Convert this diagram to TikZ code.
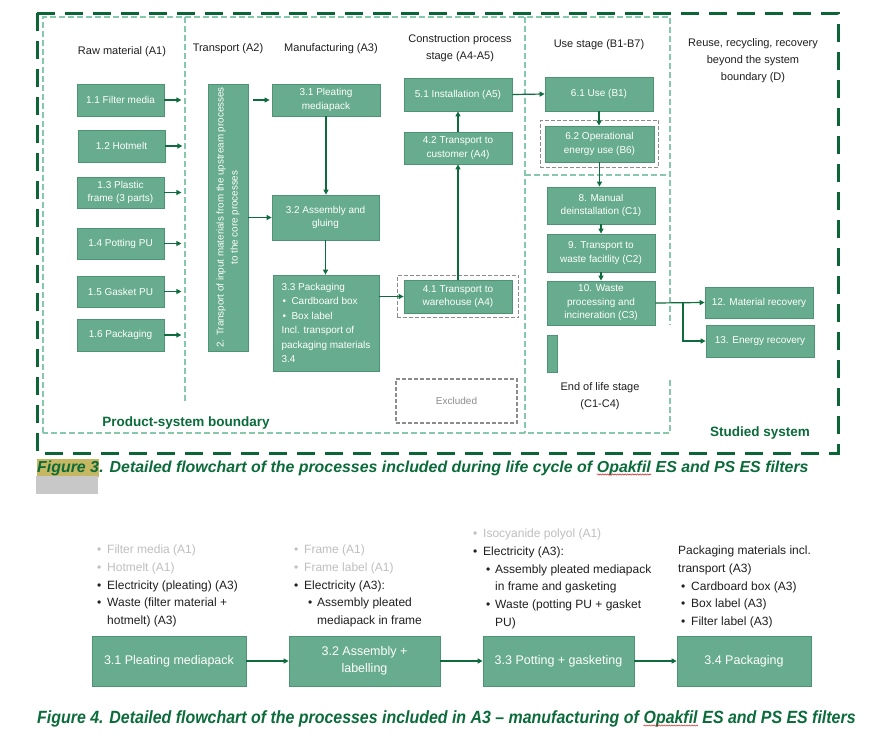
\documentclass[tikz,border=0pt]{standalone}
\usepackage{fontspec}
\setmainfont{Liberation Sans}
\newfontfamily\narrowsans[FakeStretch=0.9]{Liberation Sans}
\usepackage{graphicx}
\usetikzlibrary{arrows.meta,fit,decorations.pathmorphing}

\definecolor{boxfill}{HTML}{67AC8E}
\definecolor{boxline}{HTML}{4E9474}
\definecolor{arrowgreen}{HTML}{0E6B3D}
\definecolor{darkbound}{HTML}{0B6536}
\definecolor{lightbound}{HTML}{86C8AC}
\definecolor{exclgrey}{HTML}{8C8C8C}
\definecolor{fadetext}{HTML}{BFBFBF}
\definecolor{headtext}{HTML}{1F1F1F}
\definecolor{captiongreen}{HTML}{0B6B3A}
\definecolor{tagolive}{HTML}{C6B762}
\definecolor{tagshade}{HTML}{C8C8C8}
\definecolor{spellred}{HTML}{D02020}

\newcommand{\procfont}{\fontsize{10}{13.5}\selectfont}
\newcommand{\headfont}{\fontsize{11}{17}\selectfont}
\newcommand{\stepfont}{\fontsize{12.5}{17.5}\selectfont}
\newcommand{\listfont}{\fontsize{12}{17.8}\selectfont}
\newcommand{\capfont}{\fontsize{15.9}{18}\selectfont\bfseries\itshape}
\newcommand{\narrowcapfont}{\narrowsans\fontsize{17.7}{20}\selectfont\bfseries\itshape}
\newcommand{\bul}{\makebox[10pt][l]{\textbullet}}
\newcommand{\subbul}{\makebox[9pt][l]{\textbullet}}

\tikzset{
  procbox/.style={draw=boxline, fill=boxfill, text=white, font=\procfont,
    align=center, inner sep=1pt, line width=0.8pt},
  stepbox/.style={procbox, font=\stepfont, minimum height=50pt},
  flowarrow/.style={draw=arrowgreen, line width=1.2pt, -{Triangle[length=5pt,width=5pt]}},
  psline/.style={draw=lightbound, line width=2pt, dash pattern=on 6pt off 3pt},
  studiedline/.style={draw=darkbound, line width=3pt, dash pattern=on 18pt off 10pt},
  exclbox/.style={draw=exclgrey, line width=1.1pt, dash pattern=on 4pt off 2pt},
  stagehead/.style={font=\headfont, align=center, text=headtext},
  boundlabel/.style={font=\fontsize{13.5}{16}\selectfont\bfseries, text=captiongreen},
  figcap/.style={text=captiongreen, inner sep=0pt, anchor=base west},
  steplist/.style={font=\listfont, align=left, anchor=north west, inner sep=0pt, text=headtext},
  spellmark/.style={draw=spellred, line width=0.5pt, decorate,
    decoration={snake, amplitude=0.6pt, segment length=2.5pt}}
}

\begin{document}
\begin{tikzpicture}[x=1pt, y=-1pt]
  \fill[white] (0,0) rectangle (883,745);
  \useasboundingbox (0,0) rectangle (883,745);

  % system boundaries
  \draw[studiedline] (37,13) rectangle (838,453);
  \draw[psline] (43,433) -- (43,17) -- (670,17) -- (670,325);
  \draw[psline] (670,380) -- (670,433) -- (43,433);
  \draw[psline] (185,17) -- (185,403);
  \draw[psline] (525,17) -- (525,433);
  \draw[psline] (525,175) -- (670,175);

  % stage headings
  \node(hA1)[stagehead] at (122,52) {Raw material  (A1)};
  \node(hA2)[stagehead] at (228,49) {Transport (A2)};
  \node(hA3)[stagehead] at (331,49) {Manufacturing (A3)};
  \node(hA45)[stagehead] at (460,48.5) {Construction process\\stage (A4-A5)};
  \node(hB)[stagehead] at (599,45) {Use stage (B1-B7)};
  \node(hD)[stagehead] at (753,61) {Reuse, recycling, recovery\\beyond the system\\boundary (D)};
  \node(hC)[stagehead] at (600,396.5) {End of life stage\\(C1-C4)};
  \node(lblPS)[boundlabel] at (186,423) {Product-system boundary};
  \node(lblSS)[boundlabel] at (760,433) {Studied system};

  % raw materials
  \node(b11)[procbox, minimum width=87pt, minimum height=32pt] at (120.5,100) {1.1 Filter media};
  \node(b12)[procbox, minimum width=87pt, minimum height=32pt] at (121.5,146) {1.2 Hotmelt};
  \node(b13)[procbox, minimum width=87pt, minimum height=31pt] at (120.5,192.5) {1.3 Plastic\\frame (3 parts)};
  \node(b14)[procbox, minimum width=87pt, minimum height=31pt] at (120.5,243.5) {1.4 Potting PU};
  \node(b15)[procbox, minimum width=87pt, minimum height=31pt] at (120.5,291.5) {1.5 Gasket PU};
  \node(b16)[procbox, minimum width=87pt, minimum height=32pt] at (120.5,335) {1.6 Packaging};
  \foreach \b in {b11,b12,b13,b14,b15,b16}
    \draw[flowarrow] (\b.east) -- ++(17,0);

  % transport
  \node(b2)[procbox, minimum width=40pt, minimum height=267pt] at (228,217.5) {};
  \node(b2txt)[rotate=90, text=white, align=center, font=\fontsize{9.8}{14}\selectfont]
    at (b2.center) {2. Transport of input materials from the upstream processes\\to the core processes};

  % manufacturing
  \node(b31)[procbox, minimum width=108pt, minimum height=32pt] at (326,100) {3.1 Pleating\\mediapack};
  \node(b32)[procbox, minimum width=107pt, minimum height=45pt] at (325.5,217.5) {3.2 Assembly and\\gluing};
  \node(b33)[procbox, align=left, minimum width=106pt, minimum height=96pt,
    font=\fontsize{10}{14.5}\selectfont] at (326,323)
    {3.3 Packaging\\
     \hspace*{1pt}\subbul Cardboard box\\
     \hspace*{1pt}\subbul Box label\\
     Incl. transport of\\
     packaging materials\\
     3.4};

  % construction
  \node(b41)[procbox, minimum width=108pt, minimum height=33pt] at (458,296.5) {4.1 Transport to\\warehouse (A4)};
  \node(b42)[procbox, minimum width=108pt, minimum height=32pt] at (458,148) {4.2 Transport to\\customer (A4)};
  \node(b51)[procbox, minimum width=108pt, minimum height=33pt] at (458,94.5) {5.1 Installation (A5)};
  \node(x41)[exclbox, fit=(b41), inner xsep=6.5pt, inner ysep=4.5pt] {};
  \node(excl)[exclbox, minimum width=121pt, minimum height=44pt, text=exclgrey,
    font=\procfont] at (456.5,401) {Excluded};

  % use stage
  \node(b61)[procbox, minimum width=108pt, minimum height=34pt] at (599,94) {6.1 Use (B1)};
  \node(b62)[procbox, minimum width=109pt, minimum height=36pt] at (599.5,144) {6.2 Operational\\energy use (B6)};
  \node(x62)[exclbox, fit=(b62), inner xsep=4.5pt, inner ysep=5pt] {};

  % end of life
  \node(b8)[procbox, minimum width=108pt, minimum height=37pt] at (601,205.5) {8. Manual\\deinstallation (C1)};
  \node(b9)[procbox, minimum width=108pt, minimum height=38pt] at (601,253) {9. Transport to\\waste facitlity (C2)};
  \node(b10)[procbox, minimum width=108pt, minimum height=44pt] at (601,303) {10. Waste\\processing and\\incineration (C3)};
  \node(stub)[procbox, minimum width=10pt, minimum height=37pt] at (552,353.5) {};

  % beyond boundary
  \node(b12r)[procbox, minimum width=108pt, minimum height=31pt] at (759,302.5) {12. Material recovery};
  \node(b13r)[procbox, minimum width=108pt, minimum height=32pt] at (760,341) {13. Energy recovery};
  \coordinate(fork) at (683,303);

  % flows
  \draw[flowarrow, shorten <=5pt, shorten >=2pt] (b2.east |- b31.west) -- (b31.west);
  \draw[flowarrow] (b2.east |- b32.west) -- (b32.west);
  \draw[flowarrow] (b31.south) -- (b31.south |- b32.north);
  \draw[flowarrow] (b32.south) -- (b32.south |- b33.north);
  \draw[flowarrow] (b33.east |- b41.west) -- (b41.west);
  \draw[flowarrow] (b41.north) -- (b42.south);
  \draw[flowarrow] (b42.north) -- (b51.south);
  \draw[flowarrow] (b51.east) -- (b61.west);
  \draw[flowarrow] (b61.south) -- (b61.south |- b62.north);
  \draw[flowarrow] (b62.south) -- (b62.south |- b8.north);
  \draw[flowarrow] (b8.south) -- (b9.north);
  \draw[flowarrow] (b9.south) -- (b10.north);
  \draw[flowarrow] (b10.east) -- (b12r.west);
  \draw[flowarrow] (fork) |- (b13r.west);

  % figure 3 caption
  \node(fig3tag)[figcap, fill=tagolive, inner ysep=1.5pt, font=\capfont] at (37,472) {Figure 3};
  \fill[tagshade] (36,476) rectangle (98,494);
  \node(fig3a)[figcap, font=\capfont] at (fig3tag.base east)
    {. Detailed flowchart of the processes included during life cycle of\ \mbox{}};
  \node(opak3)[figcap, font=\capfont] at (fig3a.base east) {Opakfil};
  \node(fig3b)[figcap, font=\capfont] at (opak3.base east) {\ ES and PS ES filters};
  \draw[spellmark] ([yshift=-2.5pt]opak3.base west) -- ([yshift=-2.5pt]opak3.base east);

  % manufacturing steps (A3)
  \node(c31)[stepbox, minimum width=154pt] at (169,661) {3.1 Pleating mediapack};
  \node(c32)[stepbox, minimum width=151pt] at (364.5,661) {3.2 Assembly +\\labelling};
  \node(c33)[stepbox, minimum width=151pt] at (558.5,661) {3.3 Potting + gasketing};
  \node(c34)[stepbox, minimum width=134pt] at (744,661) {3.4 Packaging};
  \draw[flowarrow] (c31) -- (c32);
  \draw[flowarrow] (c32) -- (c33);
  \draw[flowarrow] (c33) -- (c34);

  \node(in31)[steplist] at (97,544.5)
    {{\color{fadetext}\bul Filter media (A1)}\\
     {\color{fadetext}\bul Hotmelt (A1)}\\
     \bul Electricity (pleating) (A3)\\
     \bul Waste (filter material +\\
     \hspace*{10pt}hotmelt) (A3)};
  \node(in32)[steplist] at (294,544.5)
    {{\color{fadetext}\bul Frame (A1)}\\
     {\color{fadetext}\bul Frame label (A1)}\\
     \bul Electricity (A3):\\
     \hspace*{14pt}\subbul Assembly pleated\\
     \hspace*{23pt}mediapack in frame};
  \node(in33)[steplist] at (473,528.5)
    {{\color{fadetext}\bul Isocyanide polyol (A1)}\\
     \bul Electricity (A3):\\
     \hspace*{13pt}\subbul Assembly pleated mediapack\\
     \hspace*{22pt}in frame and gasketing\\
     \hspace*{13pt}\subbul Waste (potting PU + gasket\\
     \hspace*{22pt}PU)};
  \node(in34)[steplist] at (678,545.5)
    {Packaging materials incl.\\
     transport (A3)\\
     \hspace*{3pt}\bul Cardboard box (A3)\\
     \hspace*{3pt}\bul Box label (A3)\\
     \hspace*{3pt}\bul Filter label (A3)};

  % figure 4 caption
  \node(fig4a)[figcap, font=\narrowcapfont] at (37,723)
    {Figure 4. Detailed flowchart of the processes included in A3 \textendash{} manufacturing of\ \mbox{}};
  \node(opak4)[figcap, font=\narrowcapfont] at (fig4a.base east) {Opakfil};
  \node(fig4b)[figcap, font=\narrowcapfont] at (opak4.base east) {\ ES and PS ES filters};
  \draw[spellmark] ([yshift=-2.5pt]opak4.base west) -- ([yshift=-2.5pt]opak4.base east);
\end{tikzpicture}
\end{document}
